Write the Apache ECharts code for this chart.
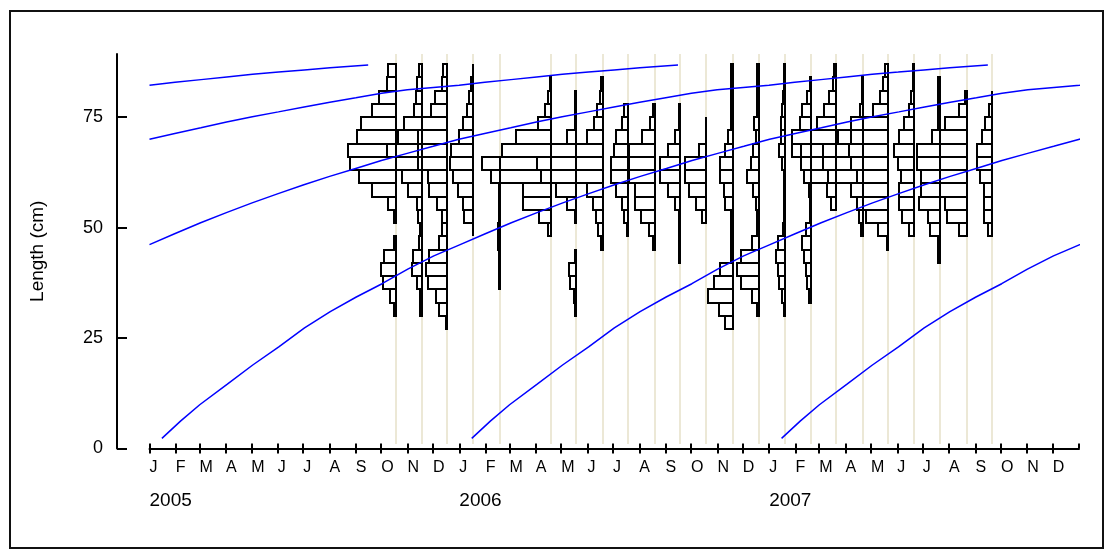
<!DOCTYPE html>
<html><head><meta charset="utf-8">
<script src="https://cdn.jsdelivr.net/npm/echarts@6/dist/echarts.min.js"></script>
<style>
html,body{margin:0;padding:0;background:#fff;}
#frame{position:absolute;left:9px;top:10px;width:1095px;height:539px;border:2px solid #111;box-sizing:border-box;}
#chart{position:absolute;left:0;top:0;width:1115px;height:550px;}
</style></head><body>
<div id="frame"></div>
<div id="chart"></div>
<script>
// ---------- data ----------
var monthLetters = ['J','F','M','A','M','J','J','A','S','O','N','D'];
var yTicks = [0, 25, 50, 75];
var binLower = [27,30,33,36,39,42,45,48,51,54,57,60,63,66,69,72,75,78,81,84];
var binWidth = 3;
var sampleDates = ['2005-10-18','2005-11-18','2005-12-18','2006-01-17','2006-02-18','2006-04-19',
  '2006-05-19','2006-06-19','2006-07-19','2006-08-19','2006-09-18','2006-10-19','2006-11-19',
  '2006-12-20','2007-01-20','2007-02-19','2007-03-21','2007-04-21','2007-05-21','2007-06-21',
  '2007-07-21','2007-08-22','2007-09-21'];
// relative frequency per 3-cm class (27-30 ... 84-87)
var oct05 = [0,1.5,6,12.7,14.7,11.3,1.5,0,1.5,7.3,23.3,36.3,45.7,47.3,38.3,34.7,23.3,16.3,9,7.3];
var nov05 = [0,1.5,1.5,5.3,10,9.3,3,1.5,4.3,5,13.7,20,26,35.3,23.7,17.7,8,6.3,4.7,3.3];
var dec05 = [1.5,8.3,11,19,21,18.3,8.3,5,5,10,18.3,19,29,29,29,25,16.7,12,5,4];
var jan06 = [0,0,0,0,0,0,0,0.3,9,10,15,20,23,22,14,10,5.5,4,2,0.3];
var feb06 = [0,0,0,1.5,1.5,1.5,2.5,2.5,1.5,1.5,1.5,9,18,0,0,0,0,0,0,0];
var apr06 = [0,0,0,0,0,0,0,3.3,12.3,27.7,27.7,51,51,49,35,12.7,6,3,1.5,0];
var may06 = [0,1.5,2.5,6.3,7,1.5,0,0,1.5,9,20,35,39,25,9,1.5,1.5,1.5,0,0];
var jun06 = [0,0,0,0,0,0,1.5,5,6.3,9.7,15.7,27,27,26.7,15.7,9,5.7,2.5,1.5,0];
var jul06 = [0,0,0,0,0,0,0,1.5,4.3,6,12.7,17.7,17.7,14.3,12.7,6,4,0,0,0];
var aug06 = [0,0,0,0,0,0,1.5,6,13.7,19.3,19.3,26,26,26,12.7,4.3,1.5,0,0,0];
var sep06 = [0,0,0,0,0,1.5,1.5,1.5,1.5,5,11.7,20,20,11.7,5,1.5,1.5,0,0,0];
var oct06 = [0,0,0,0,0,0,0,0,4,10.7,17.3,21.7,21.7,7.3,0.3,0.3,0,0,0,0];
var nov06 = [7.3,14,24.7,19,12.3,1.5,1.5,1.5,1.5,7.3,9,12.3,12.3,7.3,5,1.5,1.5,1.5,1.5,1.5];
var dec06 = [0,1.5,7.3,18.3,21.7,18.3,7.3,1.5,1.5,3.3,5.7,11.7,8,5.7,3,5,2,1.5,1.5,1.5];
var jan07 = [0,1.5,3.3,6,7.7,9.3,7.7,2.5,1.5,1.5,1.5,1.5,3.3,6.7,4.3,4.3,3.3,2.7,1.5,1.5];
var feb07 = [0,0,1.5,3.3,5,6.7,8.3,5,0.3,0.3,1.5,6.7,10,18.3,18.3,11,8.3,3.3,0.3,0];
var mar07 = [0,0,0,0,0,0,0,0,0,5.7,9,25,35,35,25.7,19,12.3,7.3,3,2];
var apr07 = [0,0,0,0,0,0,0,1.5,3.3,6,11.7,6,11.7,14,12,11.7,2.5,0.3,0.3,0];
var may07 = [0,0,0,0,0,0,1.5,10,21.7,31,36.7,60,65,65,50,25,15,7.7,5,3.3];
var jun07 = [0,0,0,0,0,0,0,5,12.3,15,15,13,16.7,20,15,10,5.7,3,1.5,1.5];
var jul07 = [0,0,0,0,0,1.5,1.5,10,11.3,20.7,19,19,22.3,22.3,7.3,2,1.5,1.5,1.5,0];
var aug07 = [0,0,0,0,0,0,0,8.3,20,21.7,26.7,26.7,26.7,26.7,26.7,21.7,8.3,1.5,0,0];
var sep07 = [0,0,0,0,0,0,0,4,8.3,8.3,8.3,12.7,15,15,10,7.3,3,0.3,0,0];
var sampleFreqs = [oct05,nov05,dec05,jan06,feb06,apr06,may06,jun06,jul06,aug06,sep06,oct06,nov06,
  dec06,jan07,feb07,mar07,apr07,may07,jun07,jul07,aug07,sep07];

// growth curve: age (years since 1 Jan of cohort year) -> length (cm)
var growthAge = [0.04,0.1,0.162,0.25,0.333,0.417,0.5,0.583,0.667,0.75,0.833,0.917,1.0,1.083,1.167,1.25,
  1.333,1.417,1.5,1.583,1.667,1.75,1.833,1.917,2.0,2.083,2.167,2.25,2.333,2.417,2.5,2.583,2.667,2.75,
  2.833,2.917,3.0,3.083,3.167,3.25,3.333,3.417,3.5,3.583,3.706];
var growthLen = [2.3,6.2,9.9,14.5,18.9,23.0,27.3,31.0,34.3,37.3,40.6,43.6,46.1,48.6,51.1,53.4,
  55.6,57.7,59.7,61.6,63.4,65.2,66.8,68.4,70.0,71.3,72.6,73.9,75.1,76.2,77.3,78.4,79.4,80.4,
  81.2,81.7,82.2,82.9,83.5,84.1,84.7,85.2,85.7,86.2,86.8];
var cohortYears = [2002, 2003, 2004, 2005, 2006, 2007];

// ---------- helpers ----------
var DAY = 86400000, YEAR_MS = 365.25 * DAY;
var xMin = Date.UTC(2005, 0, 1), xMax = Date.UTC(2008, 0, 1);
var curveEnd = Date.UTC(2008, 0, 10);
var yMaxVal = 89.3;
var PX_PER_UNIT = 1;
var FONT = 'Liberation Sans, Arial, sans-serif';

function ts(s) { var p = s.split('-'); return Date.UTC(+p[0], +p[1] - 1, +p[2]); }

function cohortLine(y) {
  var b = Date.UTC(y, 0, 1), pts = [], out = [];
  for (var i = 0; i < growthAge.length; i++) pts.push([b + growthAge[i] * YEAR_MS, growthLen[i]]);
  for (var k = 0; k < pts.length; k++) {
    var p = pts[k];
    if (p[0] < xMin) {
      var n = pts[k + 1];
      if (n && n[0] > xMin) out.push([xMin, p[1] + (n[1] - p[1]) * (xMin - p[0]) / (n[0] - p[0])]);
      continue;
    }
    if (p[0] > curveEnd) {
      var q = pts[k - 1];
      if (q && q[0] < curveEnd) out.push([curveEnd, q[1] + (p[1] - q[1]) * (curveEnd - q[0]) / (p[0] - q[0])]);
      break;
    }
    out.push(p);
  }
  return out;
}

var barData = [];
sampleDates.forEach(function (d, i) {
  var t = ts(d);
  sampleFreqs[i].forEach(function (f, j) { if (f > 0) barData.push([t, binLower[j], f]); });
});
var lineData = sampleDates.map(function (d) { return [ts(d), 0]; });

var series = [
  {
    type: 'custom', name: 'samples', coordinateSystem: 'cartesian2d', silent: true, z: 1,
    data: lineData,
    renderItem: function (params, api) {
      var t = api.value(0);
      var p0 = api.coord([t, yMaxVal]), p1 = api.coord([t, 1]);
      var x = Math.round(p0[0]);
      return { type: 'line', shape: { x1: x, y1: p0[1], x2: x, y2: p1[1] },
        style: { stroke: '#ECE8D6', lineWidth: 2 } };
    }
  },
  {
    type: 'custom', name: 'lf', coordinateSystem: 'cartesian2d', silent: true, z: 2,
    data: barData,
    renderItem: function (params, api) {
      var t = api.value(0), lo = api.value(1), f = api.value(2);
      var pb = api.coord([t, lo]), pt = api.coord([t, lo + binWidth]);
      var xr = Math.round(pb[0]), yb = Math.round(pb[1]), yt = Math.round(pt[1]);
      var xl = Math.round(pb[0] - f * PX_PER_UNIT);
      return { type: 'rect', shape: { x: xl, y: yt, width: xr - xl, height: yb - yt },
        style: { fill: 'none', stroke: '#000', lineWidth: 2 } };
    }
  }
];
cohortYears.forEach(function (y) {
  series.push({
    type: 'line', data: cohortLine(y), showSymbol: false, symbol: 'none', clip: false, silent: true,
    z: 3, lineStyle: { color: '#0000FF', width: 1.5 }
  });
});

var timeBase = { type: 'time', min: xMin, max: xMax, gridIndex: 0, position: 'bottom', splitLine: { show: false } };
function mk(extra) { var o = {}; for (var k in timeBase) o[k] = timeBase[k]; for (var e in extra) o[e] = extra[e]; return o; }

var option = {
  useUTC: true,
  animation: false,
  backgroundColor: 'transparent',
  textStyle: { fontFamily: FONT, color: '#000' },
  grid: { left: 149.5, right: 36, top: 54, bottom: 101.5, containLabel: false, outerBoundsMode: 'none' },
  xAxis: [
    mk({
      minInterval: 28 * DAY, maxInterval: 31 * DAY,
      axisLine: { show: true, lineStyle: { color: '#000', width: 2 } },
      axisTick: { show: true, inside: false, length: 5, lineStyle: { color: '#000', width: 2 } },
      axisLabel: { show: true, align: 'left', margin: 11, fontSize: 16, color: '#000', fontFamily: FONT,
        showMaxLabel: false, hideOverlap: false,
        formatter: function (v) { if (v >= xMax) return ''; return monthLetters[new Date(v).getUTCMonth()]; } }
    }),
    mk({
      minInterval: 28 * DAY, maxInterval: 31 * DAY,
      axisLine: { show: false },
      axisTick: { show: true, inside: true, length: 5, lineStyle: { color: '#000', width: 2 } },
      axisLabel: { show: false }
    }),
    mk({
      minInterval: 365 * DAY, maxInterval: 366 * DAY,
      axisLine: { show: false }, axisTick: { show: false },
      axisLabel: { show: true, align: 'left', margin: 43, fontSize: 19, color: '#000', fontFamily: FONT,
        showMaxLabel: false, hideOverlap: false,
        formatter: function (v) { if (v >= xMax) return ''; return String(new Date(v).getUTCFullYear()); } }
    })
  ],
  yAxis: {
    type: 'value', min: 0, max: yMaxVal, interval: 25, offset: 32.5, position: 'left',
    axisLine: { show: true, lineStyle: { color: '#000', width: 2 } },
    axisTick: { show: true, inside: true, length: 10, customValues: yTicks, lineStyle: { color: '#000', width: 2 } },
    axisLabel: { show: true, customValues: yTicks, margin: 14, fontSize: 18, color: '#000', fontFamily: FONT },
    splitLine: { show: false },
    name: 'Length (cm)', nameLocation: 'middle', nameGap: 70, nameRotate: 90,
    nameTextStyle: { fontSize: 19, color: '#000', fontFamily: FONT }
  },
  series: series
};

var chart = echarts.init(document.getElementById('chart'), null, { renderer: 'canvas' });
chart.setOption(option);
</script></body></html>
